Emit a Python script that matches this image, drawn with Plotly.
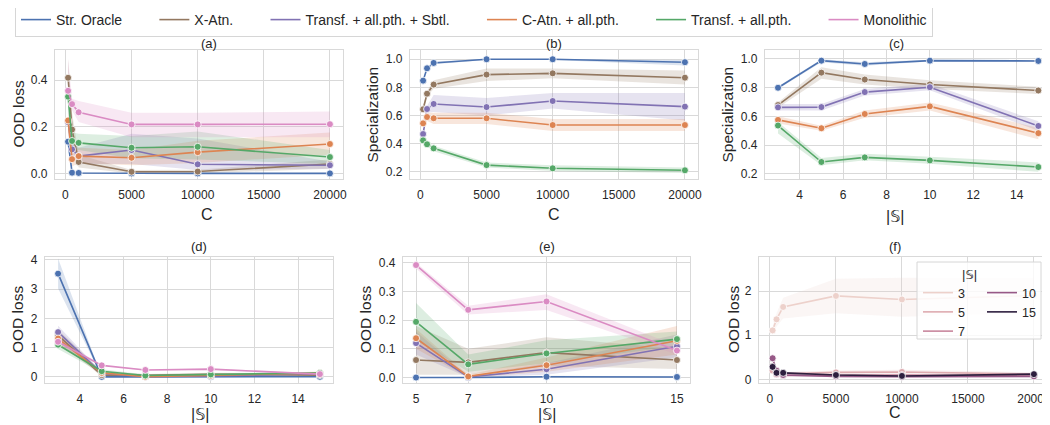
import math
import plotly.graph_objects as go

# ---------------- data ----------------
C_VALUES = [200, 500, 1000, 5000, 10000, 20000]
S_VALUES = [3, 5, 7, 10, 15]
MODELS = ["Str. Oracle", "X-Atn.", "Transf. + all.pth. + Sbtl.",
          "C-Atn. + all.pth.", "Transf. + all.pth.", "Monolithic"]
COLORS = ["#4c72b0", "#937860", "#8172b3", "#dd8452", "#55a868", "#da8bc3"]

# (a) OOD loss vs C
A_MEAN = {
    "Str. Oracle": [0.136, 0.003, 0.002, 0.0, 0.0, 0.0],
    "X-Atn.": [0.41, 0.188, 0.049, 0.007, 0.008, 0.04],
    "Transf. + all.pth. + Sbtl.": [0.22, 0.103, 0.074, 0.10, 0.039, 0.035],
    "C-Atn. + all.pth.": [0.227, 0.061, 0.074, 0.067, 0.091, 0.126],
    "Transf. + all.pth.": [0.329, 0.139, 0.131, 0.11, 0.114, 0.07],
    "Monolithic": [0.354, 0.297, 0.262, 0.21, 0.21, 0.211],
}
A_LO = {
    "Str. Oracle": [0.11, 0.0, 0.0, 0.0, 0.0, 0.0],
    "X-Atn.": [0.33, 0.12, 0.025, 0.0, 0.0, 0.02],
    "Transf. + all.pth. + Sbtl.": [0.17, 0.06, 0.04, 0.04, 0.015, 0.02],
    "C-Atn. + all.pth.": [0.19, 0.03, 0.045, 0.035, 0.045, 0.08],
    "Transf. + all.pth.": [0.29, 0.10, 0.10, 0.065, 0.06, 0.04],
    "Monolithic": [0.33, 0.27, 0.22, 0.155, 0.155, 0.155],
}
A_HI = {
    "Str. Oracle": [0.16, 0.006, 0.004, 0.001, 0.001, 0.001],
    "X-Atn.": [0.49, 0.26, 0.08, 0.015, 0.016, 0.06],
    "Transf. + all.pth. + Sbtl.": [0.27, 0.14, 0.11, 0.17, 0.15, 0.05],
    "C-Atn. + all.pth.": [0.27, 0.10, 0.11, 0.10, 0.14, 0.175],
    "Transf. + all.pth.": [0.37, 0.175, 0.17, 0.16, 0.18, 0.10],
    "Monolithic": [0.49, 0.32, 0.31, 0.26, 0.26, 0.265],
}

# (b) Specialization vs C
B_MEAN = {
    "Str. Oracle": [0.848, 0.936, 0.974, 1.0, 1.0, 0.979],
    "X-Atn.": [0.644, 0.755, 0.82, 0.891, 0.9, 0.869],
    "Transf. + all.pth. + Sbtl.": [0.468, 0.646, 0.682, 0.66, 0.703, 0.663],
    "C-Atn. + all.pth.": [0.544, 0.589, 0.58, 0.58, 0.532, 0.532],
    "Transf. + all.pth.": [0.423, 0.395, 0.366, 0.247, 0.224, 0.21],
}
B_LO = {
    "Str. Oracle": [0.835, 0.925, 0.965, 0.995, 0.995, 0.955],
    "X-Atn.": [0.625, 0.735, 0.79, 0.845, 0.865, 0.82],
    "Transf. + all.pth. + Sbtl.": [0.45, 0.62, 0.625, 0.60, 0.65, 0.565],
    "C-Atn. + all.pth.": [0.52, 0.56, 0.54, 0.54, 0.49, 0.49],
    "Transf. + all.pth.": [0.41, 0.38, 0.345, 0.23, 0.205, 0.19],
}
B_HI = {
    "Str. Oracle": [0.86, 0.945, 0.985, 1.0, 1.0, 0.995],
    "X-Atn.": [0.665, 0.775, 0.85, 0.935, 0.935, 0.92],
    "Transf. + all.pth. + Sbtl.": [0.49, 0.67, 0.745, 0.725, 0.76, 0.76],
    "C-Atn. + all.pth.": [0.57, 0.62, 0.62, 0.62, 0.575, 0.575],
    "Transf. + all.pth.": [0.435, 0.41, 0.385, 0.265, 0.245, 0.23],
}

# (c) Specialization vs |S|
C_MEAN = {
    "Str. Oracle": [0.798, 0.986, 0.963, 0.986, 0.984],
    "X-Atn.": [0.678, 0.903, 0.855, 0.821, 0.779],
    "Transf. + all.pth. + Sbtl.": [0.662, 0.664, 0.768, 0.802, 0.533],
    "C-Atn. + all.pth.": [0.575, 0.517, 0.616, 0.669, 0.483],
    "Transf. + all.pth.": [0.536, 0.283, 0.315, 0.294, 0.248],
}
C_LO = {
    "Str. Oracle": [0.79, 0.975, 0.95, 0.98, 0.978],
    "X-Atn.": [0.66, 0.86, 0.82, 0.79, 0.755],
    "Transf. + all.pth. + Sbtl.": [0.64, 0.64, 0.745, 0.78, 0.50],
    "C-Atn. + all.pth.": [0.55, 0.50, 0.59, 0.64, 0.44],
    "Transf. + all.pth.": [0.48, 0.26, 0.295, 0.27, 0.215],
}
C_HI = {
    "Str. Oracle": [0.806, 0.995, 0.975, 0.992, 0.99],
    "X-Atn.": [0.695, 0.94, 0.89, 0.85, 0.805],
    "Transf. + all.pth. + Sbtl.": [0.685, 0.685, 0.79, 0.825, 0.565],
    "C-Atn. + all.pth.": [0.60, 0.535, 0.64, 0.695, 0.52],
    "Transf. + all.pth.": [0.56, 0.31, 0.34, 0.32, 0.28],
}

# (d)/(e) OOD loss vs |S|
D_MEAN = {
    "Str. Oracle": [3.53, 0.0, 0.0, 0.003, 0.002],
    "X-Atn.": [1.42, 0.061, 0.053, 0.087, 0.061],
    "Transf. + all.pth. + Sbtl.": [1.53, 0.12, 0.002, 0.029, 0.109],
    "C-Atn. + all.pth.": [1.31, 0.137, 0.004, 0.043, 0.128],
    "Transf. + all.pth.": [1.10, 0.194, 0.046, 0.084, 0.134],
    "Monolithic": [1.20, 0.392, 0.236, 0.265, 0.094],
}
D_LO = {
    "Str. Oracle": [3.02, 0.0, 0.0, 0.0, 0.0],
    "X-Atn.": [1.20, 0.01, 0.01, 0.04, 0.03],
    "Transf. + all.pth. + Sbtl.": [1.30, 0.08, 0.0, 0.01, 0.07],
    "C-Atn. + all.pth.": [1.12, 0.10, 0.0, 0.02, 0.08],
    "Transf. + all.pth.": [0.95, 0.13, 0.02, 0.05, 0.11],
    "Monolithic": [1.05, 0.38, 0.22, 0.235, 0.08],
}
D_HI = {
    "Str. Oracle": [4.05, 0.001, 0.001, 0.006, 0.004],
    "X-Atn.": [1.62, 0.18, 0.10, 0.14, 0.10],
    "Transf. + all.pth. + Sbtl.": [1.75, 0.16, 0.005, 0.05, 0.15],
    "C-Atn. + all.pth.": [1.50, 0.17, 0.01, 0.07, 0.18],
    "Transf. + all.pth.": [1.25, 0.26, 0.08, 0.13, 0.16],
    "Monolithic": [1.35, 0.40, 0.25, 0.29, 0.11],
}

# (f) OOD loss vs C, by |S|
F_MEAN = {
    3: [1.11, 1.36, 1.64, 1.89, 1.81, 1.90],
    5: [0.20, 0.15, 0.13, 0.16, 0.17, 0.12],
    7: [0.30, 0.12, 0.09, 0.10, 0.10, 0.08],
    10: [0.48, 0.20, 0.10, 0.07, 0.06, 0.07],
    15: [0.285, 0.15, 0.15, 0.10, 0.08, 0.12],
}
F_LO = {
    3: [1.0, 1.2, 1.38, 1.5, 1.42, 1.5],
    5: [0.17, 0.12, 0.10, 0.12, 0.12, 0.09],
    7: [0.25, 0.10, 0.07, 0.08, 0.08, 0.06],
    10: [0.44, 0.17, 0.08, 0.05, 0.04, 0.05],
    15: [0.27, 0.13, 0.13, 0.08, 0.06, 0.10],
}
F_HI = {
    3: [1.2, 1.5, 1.85, 2.28, 2.3, 2.3],
    5: [0.23, 0.18, 0.17, 0.20, 0.22, 0.16],
    7: [0.35, 0.14, 0.11, 0.12, 0.12, 0.10],
    10: [0.51, 0.23, 0.12, 0.09, 0.08, 0.09],
    15: [0.31, 0.17, 0.17, 0.12, 0.10, 0.14],
}
F_LEGEND_COLS = [[3, 5, 7], [10, 15]]

# ---------------- helpers ----------------
OFF = 8                      # page body margin of the browser
W, H = 1050 - OFF, 425 - OFF
TXT = "#262626"
GRID = "#d9d9d9"
FONT = "Liberation Sans, Arial, DejaVu Sans, sans-serif"
NBSP = "\u00a0"


def fx(X):
    return (X - OFF) / W


def fy(Y):
    return 1 - (Y - OFF) / H


def rgba(hexc, a):
    hexc = hexc.lstrip("#")
    r, g, b = int(hexc[0:2], 16), int(hexc[2:4], 16), int(hexc[4:6], 16)
    return f"rgba({r},{g},{b},{a})"


def cubehelix(t, start=0.0, rot=0.4, hue=0.8, gamma=1.0, light=0.85, dark=0.15):
    x = light + (dark - light) * t
    xg = x ** gamma
    a = hue * xg * (1 - xg) / 2
    phi = 2 * math.pi * (start / 3 + rot * x)
    r = xg + a * (-0.14861 * math.cos(phi) + 1.78277 * math.sin(phi))
    g = xg + a * (-0.29227 * math.cos(phi) - 0.90649 * math.sin(phi))
    b = xg + a * (1.97294 * math.cos(phi))
    c = [max(0, min(1, v)) for v in (r, g, b)]
    return "#%02x%02x%02x" % tuple(int(round(v * 255)) for v in c)


smin, smax = min(S_VALUES), max(S_VALUES)
S_COLORS = {s: cubehelix((s - smin) / (smax - smin)) for s in S_VALUES}
MODEL_COLOR = dict(zip(MODELS, COLORS))

fig = go.Figure()
bands, lines = [], []


def add_series(xs, mean, lo, hi, color, axis):
    xa = "x" if axis == 1 else f"x{axis}"
    ya = "y" if axis == 1 else f"y{axis}"
    bands.append(go.Scatter(x=list(xs) + list(xs)[::-1], y=list(hi) + list(lo)[::-1],
                            fill="toself", fillcolor=rgba(color, 0.2), mode="lines",
                            line=dict(width=0), hoverinfo="skip", showlegend=False,
                            xaxis=xa, yaxis=ya))
    lines.append(go.Scatter(x=xs, y=mean, mode="lines+markers",
                            line=dict(color=color, width=1.6),
                            marker=dict(color=color, size=7, line=dict(color="white", width=0.8)),
                            showlegend=False, xaxis=xa, yaxis=ya))


for m in MODELS:
    col = MODEL_COLOR[m]
    add_series(C_VALUES, A_MEAN[m], A_LO[m], A_HI[m], col, 1)
    if m in B_MEAN:
        add_series(C_VALUES, B_MEAN[m], B_LO[m], B_HI[m], col, 2)
        add_series(S_VALUES, C_MEAN[m], C_LO[m], C_HI[m], col, 3)
    add_series(S_VALUES, D_MEAN[m], D_LO[m], D_HI[m], col, 4)
    idx = [i for i, s in enumerate(S_VALUES) if s >= 5]
    add_series([S_VALUES[i] for i in idx], [D_MEAN[m][i] for i in idx],
               [D_LO[m][i] for i in idx], [D_HI[m][i] for i in idx], col, 5)

for s in S_VALUES:
    add_series(C_VALUES, F_MEAN[s], F_LO[s], F_HI[s], S_COLORS[s], 6)

for t in bands + lines:
    fig.add_trace(t)

# legend-only traces
for i, m in enumerate(MODELS):
    pad = NBSP * 7 if i < len(MODELS) - 1 else ""
    fig.add_trace(go.Scatter(x=[None], y=[None], mode="lines", name=m + pad,
                             line=dict(color=MODEL_COLOR[m], width=1.6),
                             legend="legend", showlegend=True))
for ci, col_vals in enumerate(F_LEGEND_COLS):
    for s in col_vals:
        fig.add_trace(go.Scatter(x=[None], y=[None], mode="lines", name=str(s),
                                 line=dict(color=S_COLORS[s], width=1.6),
                                 legend="legend2" if ci == 0 else "legend3", showlegend=True,
                                 xaxis="x6", yaxis="y6"))

# ---------------- layout ----------------
def dom_x(a, b):
    return [fx(a), fx(b)]


def dom_y(top, bottom):
    return [fy(bottom), fy(top)]


TOP = dom_y(50, 179)
BOT = dom_y(257, 383)
panels = {
    1: dict(dx=dom_x(55, 343), dy=TOP, xr=[-790, 20990], yr=[-0.024, 0.529],
            xt=[0, 5000, 10000, 15000, 20000], yt=[0.0, 0.2, 0.4], yfmt=".1f"),
    2: dict(dx=dom_x(410, 698), dy=TOP, xr=[-790, 20990], yr=[0.148, 1.066],
            xt=[0, 5000, 10000, 15000, 20000], yt=[0.2, 0.4, 0.6, 0.8, 1.0], yfmt=".1f"),
    3: dict(dx=dom_x(765, 1047), dy=TOP, xr=[2.4, 15.4], yr=[0.165, 1.06],
            xt=[4, 6, 8, 10, 12, 14], yt=[0.2, 0.4, 0.6, 0.8, 1.0], yfmt=".1f"),
    4: dict(dx=dom_x(45, 333), dy=BOT, xr=[2.4, 15.6], yr=[-0.21, 4.1],
            xt=[4, 6, 8, 10, 12, 14], yt=[0, 1, 2, 3, 4], yfmt="d"),
    5: dict(dx=dom_x(403, 690), dy=BOT, xr=[4.5, 15.5], yr=[-0.019, 0.42],
            xt=[5, 7, 10, 15], yt=[0.0, 0.1, 0.2, 0.3, 0.4], yfmt=".1f"),
    6: dict(dx=dom_x(759, 1047), dy=BOT, xr=[-830, 20990], yr=[-0.08, 2.77],
            xt=[0, 5000, 10000, 15000, 20000], yt=[0, 1, 2], yfmt="d"),
}

layout = dict(width=W, height=H, margin=dict(l=0, r=0, t=0, b=0, autoexpand=False),
              paper_bgcolor="white", plot_bgcolor="white",
              font=dict(family=FONT, color=TXT, size=12))
for k, p in panels.items():
    sx = "" if k == 1 else str(k)
    common = dict(showgrid=True, gridcolor=GRID, gridwidth=1, zeroline=False,
                  showline=True, mirror=True, linecolor=GRID, linewidth=1.2,
                  ticks="", tickfont=dict(size=12, color=TXT, family=FONT),
                  fixedrange=True, ticklabeloverflow="allow")
    layout["xaxis" + sx] = dict(domain=p["dx"], range=p["xr"], tickvals=p["xt"],
                                tickformat="d", anchor="y" + sx, ticklabelstandoff=4, **common)
    layout["yaxis" + sx] = dict(domain=p["dy"], range=p["yr"], tickvals=p["yt"],
                                tickformat=p["yfmt"], anchor="x" + sx,
                                ticklabelstandoff=4, **common)

layout["legend"] = dict(orientation="h", x=fx(15), y=fy(3), xanchor="left", yanchor="top",
                        bgcolor="white", bordercolor="#d6d6d6", borderwidth=1,
                        font=dict(size=14, color=TXT, family=FONT), itemwidth=30)
leg_common = dict(orientation="v", yanchor="top", xanchor="left", bgcolor="rgba(0,0,0,0)",
                  borderwidth=0, font=dict(size=12.5, color=TXT, family=FONT), itemwidth=30,
                  tracegroupgap=0)
layout["legend2"] = dict(x=fx(918), y=fy(278), **leg_common)
layout["legend3"] = dict(x=fx(982), y=fy(278), **leg_common)

# legend box for panel (f)
layout["shapes"] = [dict(type="rect", xref="paper", yref="paper",
                         x0=fx(917), x1=fx(1041), y0=fy(339), y1=fy(262),
                         fillcolor="rgba(255,255,255,0.8)", line=dict(color="#d6d6d6", width=1),
                         layer="above")]

ann = []
titles = {1: "(a)", 2: "(b)", 3: "(c)", 4: "(d)", 5: "(e)", 6: "(f)"}
ytitles = {1: "OOD loss", 2: "Specialization", 3: "Specialization",
           4: "OOD loss", 5: "OOD loss", 6: "OOD loss"}
xtitles = {1: "C", 2: "C", 3: "|𝕊|", 4: "|𝕊|", 5: "|𝕊|", 6: "C"}
ytitle_x = {1: 18, 2: 372, 3: 727, 4: 17, 5: 365, 6: 733}
title_y = {1: 43, 2: 43, 3: 43, 4: 246, 5: 246, 6: 246}
xtitle_y = {1: 214, 2: 214, 3: 216, 4: 414, 5: 414, 6: 412}
for k, p in panels.items():
    cx = (p["dx"][0] + p["dx"][1]) / 2
    ann.append(dict(text=titles[k], x=cx, y=fy(title_y[k]), xref="paper", yref="paper",
                    showarrow=False, font=dict(size=13, color=TXT), yanchor="middle"))
    ann.append(dict(text=xtitles[k], x=cx, y=fy(xtitle_y[k]), xref="paper", yref="paper",
                    showarrow=False, font=dict(size=16, color=TXT), yanchor="middle"))
    ann.append(dict(text=ytitles[k], x=fx(ytitle_x[k]), y=(p["dy"][0] + p["dy"][1]) / 2,
                    xref="paper", yref="paper", showarrow=False, textangle=-90,
                    font=dict(size=15.5, color=TXT), xanchor="center", yanchor="middle"))
ann.append(dict(text="|𝕊|", x=fx(979), y=fy(274), xref="paper", yref="paper",
                showarrow=False, font=dict(size=13, color=TXT), yanchor="middle"))
layout["annotations"] = ann

fig.update_layout(**layout)
fig.write_html("out.html")
